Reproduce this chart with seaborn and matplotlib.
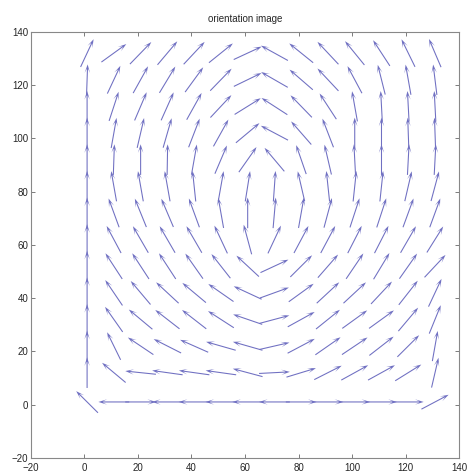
import numpy as np
import pandas as pd
import seaborn as sns
import matplotlib.pyplot as plt

sns.set_style("ticks")
plt.rcParams['font.family'] = ['Liberation Sans', 'DejaVu Sans']

# grid of the orientation field (block centres)
x_cols = [1, 11, 21, 31, 41, 51, 61, 71, 81, 91, 101, 111, 121, 131]
y_rows = [132, 122, 112, 102, 92, 82, 72, 62, 52, 42, 32, 22, 12, 1]

# orientation angle in degrees at each block, one list per row (top -> bottom)
ang_132 = [65, 36, 46, 50, 47, 39, 25, 151, 141, 133, 129, 123, 116, 113]
ang_122 = [88, 65, 61, 59, 54, 46, 26, 150, 139, 133, 118, 104, 100, 97]
ang_112 = [90, 72, 67, 66, 61, 47, 32, 147, 134, 123, 100, 93, 93, 93]
ang_102 = [90, 80, 77, 74, 69, 61, 40, 152, 131, 111, 90, 90, 92, 92]
ang_92 = [90, 88, 90, 89, 80, 67, 55, 130, 109, 103, 93, 90, 87, 87]
ang_82 = [90, 100, 100, 100, 96, 80, 81, 86, 103, 96, 84, 84, 77, 75]
ang_72 = [90, 110, 112, 113, 110, 100, 90, 85, 80, 75, 72, 72, 70, 70]
ang_62 = [90, 118, 120, 120, 120, 115, 105, 65, 62, 62, 63, 63, 60, 58]
ang_52 = [90, 123, 123, 123, 125, 128, 137, 25, 45, 49, 56, 59, 55, 47]
ang_42 = [90, 124, 130, 137, 140, 145, 155, 20, 36, 43, 43, 47, 52, 65]
ang_32 = [90, 125, 140, 142, 142, 147, 161, 15, 29, 39, 36, 36, 50, 68]
ang_22 = [90, 116, 146, 153, 156, 164, 164, 13, 28, 35, 34, 38, 45, 80]
ang_12 = [90, 140, 174, 172, 172, 172, 165, 3, 17, 27, 29, 29, 32, 77]
ang_1 = [135, 180, 0, 180, 180, 180, 180, 180, 0, 0, 0, 0, 0, 28]

angle_rows = [ang_132, ang_122, ang_112, ang_102, ang_92, ang_82, ang_72,
              ang_62, ang_52, ang_42, ang_32, ang_22, ang_12, ang_1]

records = []
for y, row in zip(y_rows, angle_rows):
    for x, a in zip(x_cols, row):
        records.append({'x': x, 'y': y, 'angle': a})
df = pd.DataFrame(records)

arrow_len = 11.5
rad = np.deg2rad(df['angle'])
df['u'] = arrow_len * np.cos(rad)
df['v'] = arrow_len * np.sin(rad)

fig = plt.figure(figsize=(4.68, 4.74), dpi=100)
ax = fig.add_axes([0.066, 0.034, 0.915, 0.899])

ax.quiver(df['x'], df['y'], df['u'], df['v'],
          angles='xy', scale_units='xy', scale=1, pivot='middle',
          color='#7070c2', width=0.0025,
          headwidth=5, headlength=8, headaxislength=4)

ax.set_xlim(-20, 140)
ax.set_ylim(-20, 140)
ax.set_xticks(range(-20, 141, 20))
ax.set_yticks(range(-20, 141, 20))
ax.tick_params(direction='in', top=True, right=True, length=3, width=0.6,
               labelsize=7, color='#666666')
ax.tick_params(axis='x', pad=4)
ax.tick_params(axis='y', pad=2)
for s in ax.spines.values():
    s.set_color('#888888')
    s.set_linewidth(0.8)

ax.set_title("orientation image", fontsize=7, pad=7)

fig.savefig("out.png", dpi=100)
